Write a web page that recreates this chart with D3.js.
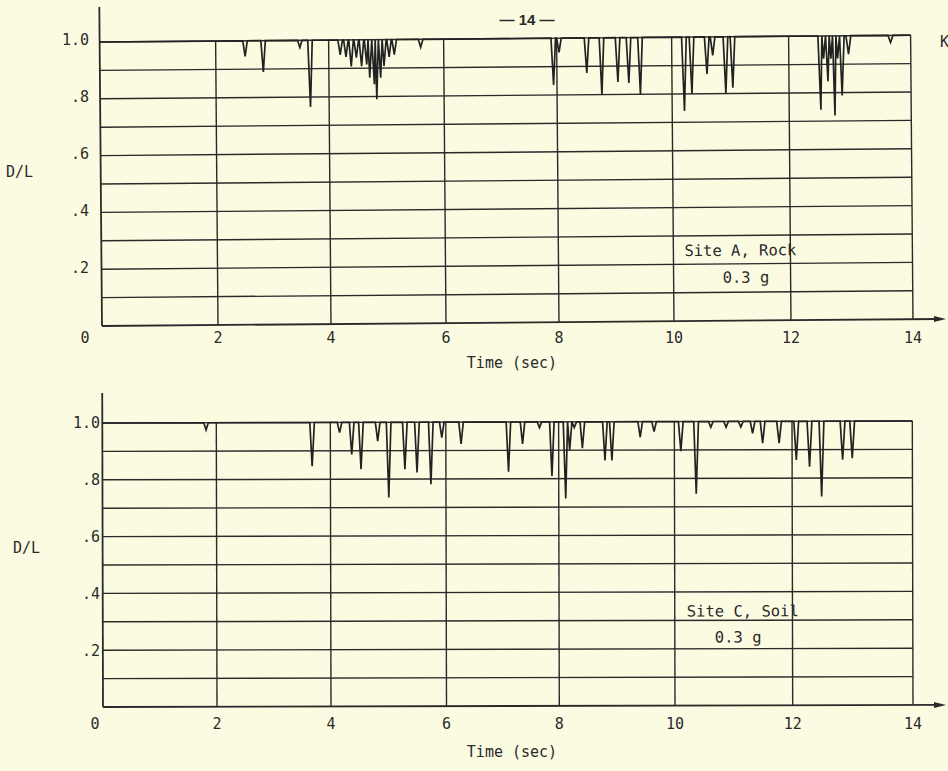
<!DOCTYPE html>
<html><head><meta charset="utf-8">
<script src="https://cdn.jsdelivr.net/npm/d3@7"></script>
<style>html,body{margin:0;padding:0;background:#fbfbe2;} svg{display:block;}</style>
</head><body>
<script>
// ---------------- data ----------------
const xTicks = [0, 2, 4, 6, 8, 10, 12, 14];
const xTickLabels = ["0", "2", "4", "6", "8", "10", "12", "14"];
const yTicks = [0.2, 0.4, 0.6, 0.8, 1.0];
const yTickLabels = [".2", ".4", ".6", ".8", "1.0"];
const gridValues = [0.1, 0.2, 0.3, 0.4, 0.5, 0.6, 0.7, 0.8, 0.9, 1.0];
const xLabel = "Time (sec)";
const yLabel = "D/L";
const pageNumber = "\u2014 14 \u2014";
const topSite = "Site A, Rock";
const topPga = "0.3 g";
const bottomSite = "Site C, Soil";
const bottomPga = "0.3 g";

const topDipTimes = [2.52, 2.84, 3.49, 3.67, 4.20, 4.30, 4.39, 4.48, 4.57, 4.66, 4.71, 4.79, 4.83, 4.90, 4.96, 5.05, 5.14, 5.60,
  7.94, 8.04, 8.52, 8.78, 9.06, 9.25, 9.45, 10.21, 10.34, 10.60, 10.70, 10.92, 11.04,
  12.52, 12.57, 12.64, 12.69, 12.75, 12.80, 12.87, 12.98, 13.67];
const topDipValues = [0.945, 0.89, 0.975, 0.765, 0.948, 0.94, 0.907, 0.937, 0.907, 0.913, 0.866, 0.843, 0.79, 0.866, 0.907, 0.939, 0.947, 0.972,
  0.835, 0.95, 0.877, 0.80, 0.844, 0.84, 0.80, 0.74, 0.80, 0.87, 0.935, 0.80, 0.82,
  0.74, 0.92, 0.84, 0.92, 0.72, 0.92, 0.79, 0.935, 0.975];

const bottomDipTimes = [1.82, 3.68, 4.16, 4.37, 4.53, 4.82, 5.01, 5.29, 5.50, 5.74, 5.93, 6.27, 7.11, 7.36, 7.66, 7.88,
  8.12, 8.19, 8.27, 8.41, 8.80, 8.92, 9.41, 9.65, 10.11, 10.37, 10.62, 10.88, 11.13, 11.33, 11.50, 11.78,
  12.07, 12.29, 12.49, 12.84, 13.00];
const bottomDipValues = [0.975, 0.846, 0.964, 0.887, 0.835, 0.934, 0.735, 0.835, 0.823, 0.782, 0.946, 0.923, 0.825, 0.923, 0.98, 0.81,
  0.73, 0.90, 0.98, 0.907, 0.864, 0.864, 0.946, 0.965, 0.896, 0.746, 0.98, 0.98, 0.98, 0.958, 0.923, 0.923,
  0.864, 0.84, 0.735, 0.864, 0.87];

// ---------------- layout ----------------
const W = 948, H = 771;
const INK = "#2a2a2a";
const FONT = "'DejaVu Sans Mono', 'Liberation Mono', monospace";

const svg = d3.select("body").append("svg").attr("width", W).attr("height", H);
svg.append("rect").attr("width", W).attr("height", H).attr("fill", "#fbfbe2");

svg.append("text").attr("x", 527).attr("y", 25).attr("text-anchor", "middle")
  .attr("font-family", "'Liberation Sans', Arial, sans-serif").attr("font-size", 15).attr("font-weight", "bold")
  .attr("fill", INK).text(pageNumber);
svg.append("text").attr("x", 940).attr("y", 47)
  .attr("font-family", FONT).attr("font-size", 15).attr("fill", INK).text("K");

const panels = [
  { times: topDipTimes, values: topDipValues, site: topSite, pga: topPga,
    xRange: [102, 218, 331, 446, 559, 674, 791, 913], y0: 326, y1: 42, axisTop: 7, tilt: -0.48,
    yLabelX: 89, yLabelDy: -2, xLabelY: 343, zeroX: 85, titleY: 368, dlX: 6, dlY: 177,
    siteX: 685, siteY: 261, pgaX: 723, pgaY: 288 },
  { times: bottomDipTimes, values: bottomDipValues, site: bottomSite, pga: bottomPga,
    xRange: [103, 217, 331, 446.5, 559.3, 675, 792.7, 913], y0: 707, y1: 423, axisTop: 393, tilt: -0.14,
    yLabelX: 100, yLabelDy: 0, xLabelY: 729, zeroX: 95, titleY: 757, dlX: 13, dlY: 553,
    siteX: 687, siteY: 618, pgaX: 715, pgaY: 644 }
];

function tracePoints(times, values, hw) {
  const pts = [[0, 1]];
  times.forEach((t, i) => {
    const prev = i > 0 ? times[i - 1] : -Infinity;
    const next = i < times.length - 1 ? times[i + 1] : Infinity;
    const l = Math.min(hw, (t - prev) / 2), r = Math.min(hw, (next - t) / 2);
    pts.push([t - l, 1], [t, values[i]], [t + r, 1]);
  });
  pts.push([14, 1]);
  return pts;
}

panels.forEach(p => {
  const x = d3.scaleLinear().domain(xTicks).range(p.xRange);
  const y = d3.scaleLinear().domain([0, 1]).range([p.y0, p.y1]);
  const g = svg.append("g").attr("transform", `rotate(${p.tilt}, ${p.xRange[0]}, ${p.y0})`);

  g.selectAll("line.h").data(gridValues).join("line")
    .attr("x1", x(0)).attr("x2", x(14)).attr("y1", d => y(d)).attr("y2", d => y(d))
    .attr("stroke", INK).attr("stroke-width", 1.4);
  g.selectAll("line.v").data(xTicks.slice(1)).join("line")
    .attr("x1", d => x(d)).attr("x2", d => x(d)).attr("y1", y(0)).attr("y2", y(1))
    .attr("stroke", INK).attr("stroke-width", 1.4);
  g.append("line").attr("x1", x(0)).attr("x2", x(0)).attr("y1", y(0)).attr("y2", p.axisTop)
    .attr("stroke", INK).attr("stroke-width", 1.8);
  g.append("line").attr("x1", x(0)).attr("x2", 940).attr("y1", y(0)).attr("y2", y(0))
    .attr("stroke", INK).attr("stroke-width", 1.8);
  g.append("path").attr("d", `M${946},${y(0)} L${934},${y(0) - 3} L${934},${y(0) + 3} Z`).attr("fill", INK);

  const line = d3.line().x(d => x(d[0])).y(d => y(d[1]));
  g.append("path").datum(tracePoints(p.times, p.values, 0.04)).attr("d", line)
    .attr("fill", "none").attr("stroke", "#222").attr("stroke-width", 1.7).attr("stroke-linejoin", "miter");

  g.append("text").attr("x", p.siteX).attr("y", p.siteY).attr("font-family", FONT).attr("font-size", 15.5)
    .attr("fill", INK).text(p.site);
  g.append("text").attr("x", p.pgaX).attr("y", p.pgaY).attr("font-family", FONT).attr("font-size", 15.5)
    .attr("fill", INK).text(p.pga);

  svg.selectAll(null).data(yTicks).join("text")
    .attr("x", p.yLabelX).attr("y", d => y(d) + p.yLabelDy).attr("dy", "0.36em")
    .attr("text-anchor", "end").attr("font-family", FONT).attr("font-size", 15).attr("fill", INK)
    .text((d, i) => yTickLabels[i]);
  svg.selectAll(null).data(xTicks).join("text")
    .attr("x", (d, i) => i === 0 ? p.zeroX : x(d)).attr("y", p.xLabelY)
    .attr("text-anchor", "middle").attr("font-family", FONT).attr("font-size", 15).attr("fill", INK)
    .text((d, i) => xTickLabels[i]);
  svg.append("text").attr("x", 512).attr("y", p.titleY).attr("text-anchor", "middle")
    .attr("font-family", FONT).attr("font-size", 15).attr("fill", INK).text(xLabel);
  svg.append("text").attr("x", p.dlX).attr("y", p.dlY)
    .attr("font-family", FONT).attr("font-size", 15).attr("fill", INK).text(yLabel);
});
</script>
</body></html>
